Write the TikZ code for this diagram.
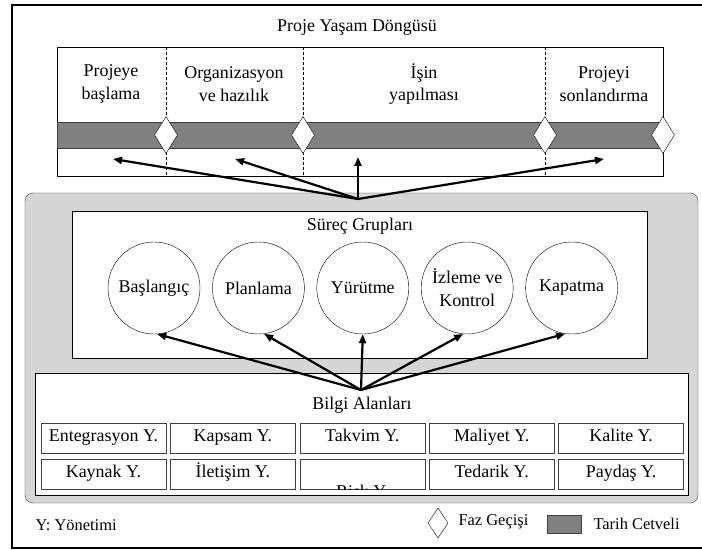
\documentclass[tikz,border=0pt]{standalone}
\usepackage{fontspec}
\setmainfont{Liberation Serif}
\usetikzlibrary{arrows.meta,calc,positioning,shapes.geometric}
\tikzset{
  mainfont/.style={font=\fontsize{18}{23}\selectfont},
  smallfont/.style={font=\fontsize{16.5}{19}\selectfont},
  phasetext/.style={align=center, mainfont},
  gatediamond/.style={draw, diamond, fill=white, minimum width=23bp, minimum height=37bp, inner sep=0pt},
  proccircle/.style={draw, circle, minimum size=92bp, inner sep=0pt, align=center, mainfont},
  areacell/.style={draw=black!75, minimum width=125bp, minimum height=30bp, inner sep=0pt, text height=12bp, text depth=5bp, mainfont},
  arrow/.style={-{Triangle[length=9bp,width=7bp]}, line width=2.2bp},
  legendtext/.style={anchor=west, smallfont},
  timebar/.style={draw=black!75, fill=black!50},
  phaseline/.style={dash pattern=on 3bp off 2bp, line width=0.6bp}
}
\begin{document}
\begin{tikzpicture}[x=1bp, y=-1bp]
  \useasboundingbox (0,0) rectangle (702,550);
  % outer frame, cut at the right
  \draw[line width=2bp] (702,5) -- (12,5) -- (12,548) -- (702,548);

  % life cycle
  \node[mainfont] (title) at (357,28) {Proje Yaşam Döngüsü};
  \draw[line width=0.8bp] (57,47) rectangle (663,176);
  \draw[timebar] (57,122) rectangle (663,148);
  \draw[phaseline] (166,47) -- (166,176);
  \draw[phaseline] (303,47) -- (303,176);
  \draw[phaseline] (545,47) -- (545,176);
  \node[gatediamond] (g1) at (166,135) {};
  \node[gatediamond] (g2) at (303,135) {};
  \node[gatediamond] (g3) at (545,135) {};
  \node[gatediamond] (g4) at (663,135) {};
  \node[phasetext] (p1) at (111,84) {Projeye\\başlama};
  \node[phasetext] (p2) at (234,84) {Organizasyon\\ve hazılık};
  \node[phasetext] (p3) at (424,84) {İşin\\yapılması};
  \node[phasetext] (p4) at (604,84) {Projeyi\\sonlandırma};
  \coordinate (t1) at (113,159);
  \coordinate (t2) at (235,159);
  \coordinate (t3) at (358,157);
  \coordinate (t4) at (604,159);

  % process groups and knowledge areas
  \draw[rounded corners=8bp, draw=black!75, fill=black!16] (25,193) rectangle (698,503);
  \draw[fill=white, line width=0.8bp] (72,211) rectangle (647,358);
  \node[mainfont] (groups) at (360,226) {Süreç Grupları};
  \node[proccircle] (c1) at (154,288) {Başlangıç};
  \node[proccircle, right=12bp of c1] (c2) {Planlama};
  \node[proccircle, right=12bp of c2] (c3) {Yürütme};
  \node[proccircle, right=12bp of c3] (c4) {İzleme ve\\Kontrol};
  \node[proccircle, right=12bp of c4] (c5) {Kapatma};
  \coordinate (up) at (358,199);

  \draw[fill=white, line width=0.8bp] (35,373) rectangle (688,495);
  \node[mainfont] (areas) at (362,405) {Bilgi Alanları};
  \node[areacell] (a1) at (103.5,438) {Entegrasyon Y.};
  \node[areacell, right=4bp of a1] (a2) {Kapsam Y.};
  \node[areacell, right=4bp of a2] (a3) {Takvim Y.};
  \node[areacell, right=4bp of a3] (a4) {Maliyet Y.};
  \node[areacell, right=4bp of a4] (a5) {Kalite Y.};
  \node[areacell, below=6bp of a1] (b1) {Kaynak Y.};
  \node[areacell, right=4bp of b1] (b2) {İletişim Y.};
  \node[areacell, right=4bp of b2] (b3) {};
  \node[areacell, right=4bp of b3] (b4) {Tedarik Y.};
  \node[areacell, right=4bp of b4] (b5) {Paydaş Y.};
  \begin{scope}
    \clip (b3.south west) rectangle (b3.north east);
    \node[mainfont, anchor=base] (risk) at ($(b3.south)+(0,8)$) {Risk Y.};
  \end{scope}
  \coordinate (down) at (361,390);

  \draw[arrow] (up) -- (t1);
  \draw[arrow] (up) -- (t2);
  \draw[arrow] (up) -- (t3);
  \draw[arrow] (up) -- (t4);
  \draw[arrow] (down) -- (c1.274);
  \draw[arrow] (down) -- (c2.277);
  \draw[arrow] (down) -- (c3.270);
  \draw[arrow] (down) -- (c4.265);
  \draw[arrow] (down) -- (c5.262);

  % legend
  \node[legendtext] (ynote) at (32,525) {Y: Yönetimi};
  \node[draw, diamond, minimum width=20bp, minimum height=30bp, inner sep=0pt] (lgate) at (438,523) {};
  \node[legendtext] (lgatetext) at (455,522) {Faz Geçişi};
  \node[timebar, minimum width=34bp, minimum height=18bp, inner sep=0pt] (lbar) at (564,524) {};
  \node[legendtext] (lbartext) at (590,524) {Tarih Cetveli};
\end{tikzpicture}
\end{document}
